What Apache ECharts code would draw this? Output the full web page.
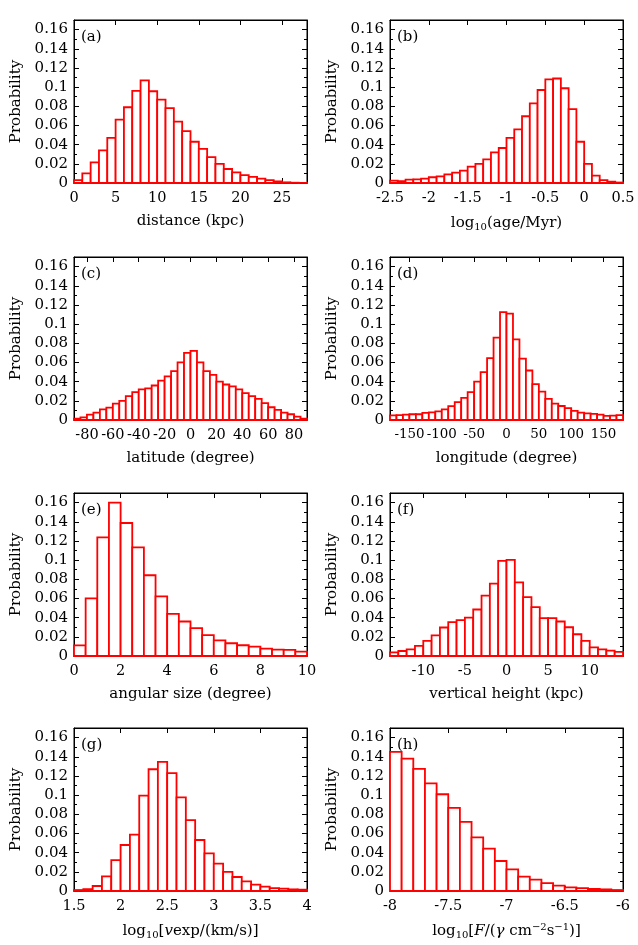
<!DOCTYPE html>
<html>
<head>
<meta charset="utf-8">
<script src="https://cdn.jsdelivr.net/npm/echarts@6/dist/echarts.min.js"></script>
<style>
  html, body { margin: 0; padding: 0; background: #fff; }
  #chart { width: 638px; height: 945px; }
</style>
</head>
<body>
<div id="chart"></div>
<script>
  // histogram values, one array per panel (bins start at xRange[0])
  var distanceProb = [0.003, 0.010, 0.0216, 0.034, 0.047, 0.066, 0.079, 0.096, 0.107, 0.0957, 0.087, 0.078, 0.064, 0.054,
    0.043, 0.0355, 0.027, 0.020, 0.0146, 0.011, 0.0083, 0.0063, 0.0045, 0.003, 0.0017, 0.0007, 0.0003, 0.0001]
  var ageProb = [0.0024, 0.002, 0.0035, 0.0038, 0.0045, 0.006, 0.007, 0.009, 0.0108, 0.013, 0.017, 0.020, 0.0247, 0.032,
    0.0365, 0.047, 0.056, 0.0696, 0.083, 0.097, 0.108, 0.109, 0.0988, 0.077, 0.043, 0.020, 0.0077, 0.003, 0.0014, 0.0005]
  var latitudeProb = [0.0014, 0.0028, 0.0056, 0.0077, 0.011, 0.013, 0.017, 0.020, 0.025, 0.029, 0.032, 0.033, 0.036, 0.041,
    0.0456, 0.051, 0.060, 0.070, 0.072, 0.060, 0.051, 0.047, 0.040, 0.037, 0.035, 0.032, 0.028, 0.025, 0.022, 0.0175,
    0.0133, 0.0105, 0.0077, 0.006, 0.0035, 0.0014]
  var longitudeProb = [0.0049, 0.005, 0.0056, 0.006, 0.006, 0.0074, 0.008, 0.009, 0.011, 0.0144, 0.0186, 0.023, 0.029, 0.040,
    0.050, 0.0646, 0.086, 0.1125, 0.111, 0.084, 0.064, 0.0516, 0.0375, 0.0295, 0.022, 0.017, 0.0146, 0.0123, 0.0095,
    0.0077, 0.007, 0.0063, 0.0056, 0.0042, 0.0046, 0.005]
  var angularProb = [0.011, 0.060, 0.1237, 0.160, 0.1387, 0.1132, 0.0842, 0.0622, 0.044, 0.036, 0.029, 0.0217, 0.0164,
    0.0133, 0.0112, 0.0098, 0.0077, 0.0066, 0.0063, 0.0045]
  var heightProb = [0.0038, 0.0052, 0.007, 0.0105, 0.0157, 0.0216, 0.0297, 0.0353, 0.0374, 0.040, 0.0485, 0.063, 0.0755,
    0.0992, 0.1003, 0.0768, 0.0615, 0.051, 0.0395, 0.0395, 0.036, 0.030, 0.0227, 0.0157, 0.009, 0.007, 0.0056, 0.0042]
  var vexpProb = [0.001, 0.002, 0.0052, 0.0153, 0.0323, 0.048, 0.0588, 0.0995, 0.127, 0.1346, 0.123, 0.0977, 0.074, 0.0532,
    0.0393, 0.0285, 0.020, 0.0146, 0.010, 0.0066, 0.0045, 0.0031, 0.0024, 0.0017, 0.0014]
  var fluxProb = [0.145, 0.138, 0.1273, 0.1123, 0.1009, 0.0866, 0.072, 0.056, 0.0442, 0.0313, 0.0226, 0.015, 0.0118,
    0.0083, 0.0056, 0.0038, 0.0031, 0.0021, 0.0017, 0.001]

  // x tick labels per panel
  var distanceTicks = [0, 5, 10, 15, 20, 25]
  var ageTicks = [-2.5, -2, -1.5, -1, -0.5, 0, 0.5]
  var latitudeTicks = [-80, -60, -40, -20, 0, 20, 40, 60, 80]
  var longitudeTicks = [-150, -100, -50, 0, 50, 100, 150]
  var angularTicks = [0, 2, 4, 6, 8, 10]
  var heightTicks = [-10, -5, 0, 5, 10]
  var vexpTicks = [1.5, 2, 2.5, 3, 3.5, 4]
  var fluxTicks = [-8, -7.5, -7, -6.5, -6]

  var yTicks = [0, 0.02, 0.04, 0.06, 0.08, 0.1, 0.12, 0.14, 0.16]

  var panels = [
    { tag: '(a)', name: 'distance (kpc)', range: [0, 28], bin: 1, prob: distanceProb, ticks: distanceTicks },
    { tag: '(b)', name: 'log{sub|10}(age/Myr)', range: [-2.5, 0.5], bin: 0.1, prob: ageProb, ticks: ageTicks },
    { tag: '(c)', name: 'latitude (degree)', range: [-90, 90], bin: 5, prob: latitudeProb, ticks: latitudeTicks },
    { tag: '(d)', name: 'longitude (degree)', range: [-180, 180], bin: 10, prob: longitudeProb, ticks: longitudeTicks, labelSize: 13.4 },
    { tag: '(e)', name: 'angular size (degree)', range: [0, 10], bin: 0.5, prob: angularProb, ticks: angularTicks },
    { tag: '(f)', name: 'vertical height (kpc)', range: [-14, 14], bin: 1, prob: heightProb, ticks: heightTicks },
    { tag: '(g)', name: 'log{sub|10}[{it|v}exp/(km/s)]', range: [1.5, 4], bin: 0.1, prob: vexpProb, ticks: vexpTicks },
    { tag: '(h)', name: 'log{sub|10}[{it|F}/({it|γ} cm{sup|−2}s{sup|−1})]', range: [-8, -6], bin: 0.1, prob: fluxProb, ticks: fluxTicks }
  ]

  var FONT = 'DejaVu Serif'
  var colLeft = [74, 390]
  var rowTop = [20, 257, 493, 728]
  var plotW = 233
  var plotH = 163

  var rich = {
    sub: { fontFamily: FONT, fontSize: 10, color: '#000', verticalAlign: 'bottom', padding: [8, 0, 0, 0] },
    sup: { fontFamily: FONT, fontSize: 10, color: '#000', verticalAlign: 'top', padding: [0, 0, 8, 0] },
    it: { fontFamily: FONT, fontSize: 15, fontStyle: 'italic', color: '#000' }
  }

  var grid = [], xAxis = [], yAxis = [], series = [], title = []

  panels.forEach(function (p, i) {
    var left = colLeft[i % 2]
    var top = rowTop[Math.floor(i / 2)]
    grid.push({ left: left, top: top, width: plotW, height: plotH, show: true, borderColor: '#000', borderWidth: 1, backgroundColor: '#fff' })

    var tickStyle = { show: true, inside: true, length: 5, lineStyle: { color: '#000', width: 1 } }
    var frame = { show: true, onZero: false, lineStyle: { color: '#000' } }
    xAxis.push({
      type: 'value', gridIndex: i, min: p.range[0], max: p.range[1], position: 'bottom',
      name: p.name, nameLocation: 'middle', nameGap: 31,
      nameTextStyle: { fontFamily: FONT, fontSize: 15, color: '#000', rich: rich },
      axisLine: frame,
      axisTick: Object.assign({ customValues: p.ticks }, tickStyle),
      axisLabel: {
        customValues: p.ticks, hideOverlap: false, showMinLabel: true, showMaxLabel: true,
        fontFamily: FONT, fontSize: p.labelSize || 14.5, color: '#000', margin: 8
      },
      splitLine: { show: false }
    })
    xAxis.push({
      type: 'value', gridIndex: i, min: p.range[0], max: p.range[1], position: 'top',
      axisLine: frame,
      axisTick: Object.assign({ customValues: p.ticks }, tickStyle),
      axisLabel: { show: false },
      splitLine: { show: false }
    })
    yAxis.push({
      type: 'value', gridIndex: i, min: 0, max: 0.17, interval: 0.02, position: 'left',
      name: 'Probability', nameLocation: 'middle', nameGap: 50, nameRotate: 90,
      nameTextStyle: { fontFamily: FONT, fontSize: 15, color: '#000' },
      axisLine: frame,
      axisTick: tickStyle,
      minorTick: { show: true, splitNumber: 2, length: 3, lineStyle: { color: '#000' } },
      axisLabel: { customValues: yTicks, fontFamily: FONT, fontSize: 15, color: '#000', margin: 6 },
      splitLine: { show: false }
    })
    yAxis.push({
      type: 'value', gridIndex: i, min: 0, max: 0.17, interval: 0.02, position: 'right',
      axisLine: frame,
      axisTick: tickStyle,
      minorTick: { show: true, splitNumber: 2, length: 3, lineStyle: { color: '#000' } },
      axisLabel: { show: false },
      splitLine: { show: false }
    })

    var data = p.prob.map(function (v, k) {
      var x0 = p.range[0] + k * p.bin
      return [x0, x0 + p.bin, v]
    })
    series.push({
      type: 'custom',
      xAxisIndex: i * 2,
      yAxisIndex: i * 2,
      encode: { x: [0, 1], y: 2 },
      data: data,
      silent: true,
      animation: false,
      renderItem: function (params, api) {
        var a = api.coord([api.value(0), api.value(2)])
        var b = api.coord([api.value(1), 0])
        return {
          type: 'rect',
          shape: { x: a[0], y: a[1], width: b[0] - a[0], height: b[1] - a[1] },
          style: { fill: '#fff', stroke: '#ff0000', lineWidth: 1.8 }
        }
      }
    })

    title.push({
      text: p.tag, left: left + 7, top: top + 10,
      textStyle: { fontFamily: FONT, fontSize: 15, fontWeight: 'normal', color: '#000' },
      padding: 0
    })
  })

  var chart = echarts.init(document.getElementById('chart'), null, { renderer: 'canvas' })
  chart.setOption({
    animation: false,
    backgroundColor: '#fff',
    title: title,
    grid: grid,
    xAxis: xAxis,
    yAxis: yAxis,
    series: series
  })
</script>
</body>
</html>
